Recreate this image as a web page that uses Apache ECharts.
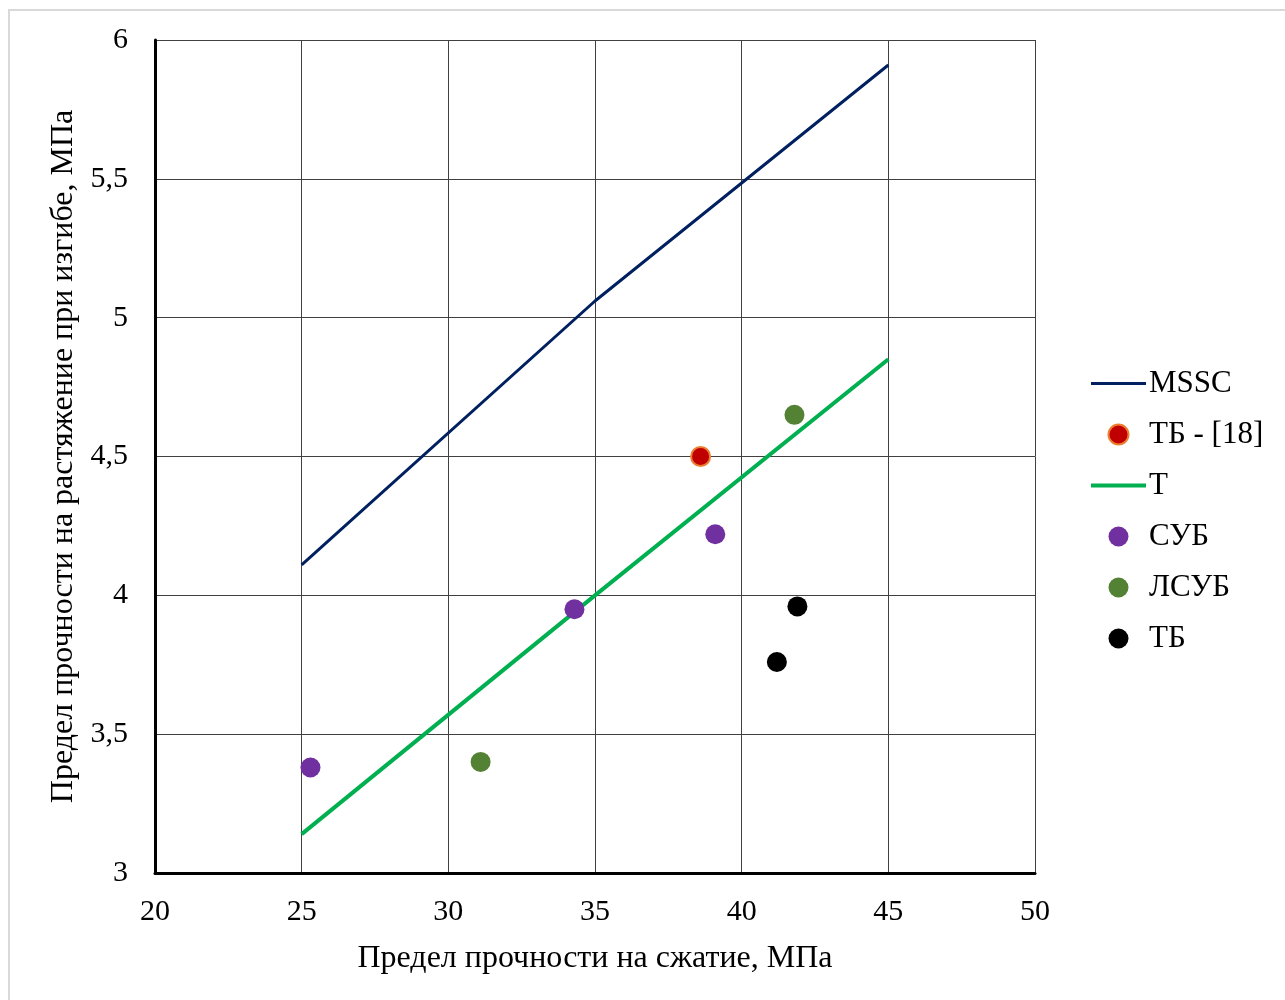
<!DOCTYPE html>
<html>
<head>
<meta charset="utf-8">
<script src="https://cdn.jsdelivr.net/npm/echarts@6/dist/echarts.min.js"></script>
<style>
html,body{margin:0;padding:0;background:#fff;}
#frame{position:absolute;left:8px;top:9px;width:1277px;height:991px;border-top:2px solid #d9d9d9;border-left:2px solid #d9d9d9;box-sizing:border-box;}
#c{position:absolute;left:0;top:0;width:1285px;height:1000px;}
</style>
</head>
<body>
<div id="frame"></div>
<div id="c"></div>
<script>
// Data
const xTitle = 'Предел прочности на сжатие, МПа';
const yTitle = 'Предел прочности на растяжение при изгибе, МПа';
const mssc = [[25, 4.11], [35, 5.06], [45, 5.91]];
const tLine = [[25, 3.14], [35, 4.0], [45, 4.85]];
const tb18 = [[38.6, 4.5]];
const sub = [[25.3, 3.38], [34.3, 3.95], [39.1, 4.22]];
const lsub = [[31.1, 3.40], [41.8, 4.65]];
const tb = [[41.2, 3.76], [41.9, 3.96]];

const font = 'Liberation Serif, Times New Roman, serif';
const lineIcon3 = 'path://M0,0 M0,8.5 L55,8.5 L55,11.5 L0,11.5 Z M55,20';
const lineIcon4 = 'path://M0,0 M0,8 L55,8 L55,12 L0,12 Z M55,20';
const chart = echarts.init(document.getElementById('c'));
chart.setOption({
  animation: false,
  textStyle: {fontFamily: font},
  grid: {left: 155, top: 40, width: 880, height: 833, containLabel: false},
  legend: {
    orient: 'vertical', left: 1086, top: 363, itemGap: 20, itemWidth: 55, itemHeight: 20,
    textStyle: {fontFamily: font, fontSize: 31, color: '#000', padding: [0, 0, 0, -2]},
    data: [
      {name: 'MSSC', icon: lineIcon3}, {name: 'ТБ - [18]', icon: 'circle'}, {name: 'T', icon: lineIcon4},
      {name: 'СУБ', icon: 'circle'}, {name: 'ЛСУБ', icon: 'circle'}, {name: 'ТБ', icon: 'circle'}
    ]
  },
  xAxis: {
    type: 'value', min: 20, max: 50, interval: 5,
    name: xTitle, nameLocation: 'middle', nameGap: 70,
    nameTextStyle: {fontFamily: font, fontSize: 32, color: '#000'},
    axisLine: {show: true, onZero: false, lineStyle: {color: '#000', width: 3}},
    axisTick: {show: false},
    axisLabel: {fontFamily: font, fontSize: 30, color: '#000', margin: 24},
    splitLine: {show: true, lineStyle: {color: '#404040', width: 1}}
  },
  yAxis: {
    type: 'value', min: 3, max: 6, interval: 0.5,
    name: yTitle, nameLocation: 'middle', nameGap: 75, nameRotate: 90,
    nameTextStyle: {fontFamily: font, fontSize: 32, color: '#000'},
    axisLine: {show: true, onZero: false, lineStyle: {color: '#000', width: 3}},
    axisTick: {show: false},
    axisLabel: {fontFamily: font, fontSize: 30, color: '#000', margin: 27, padding: [3, 0, 0, 0],
      formatter: v => String(v).replace('.', ',')},
    splitLine: {show: true, lineStyle: {color: '#404040', width: 1}}
  },
  series: [
    {name: 'MSSC', type: 'line', data: mssc, symbol: 'none', lineStyle: {color: '#002060', width: 3}, itemStyle: {color: '#002060'}, z: 3},
    {name: 'ТБ - [18]', type: 'scatter', data: tb18, symbolSize: 19, itemStyle: {color: '#c00000', borderColor: '#ed7d31', borderWidth: 2, opacity: 1}, z: 4},
    {name: 'T', type: 'line', data: tLine, symbol: 'none', lineStyle: {color: '#00b050', width: 4}, itemStyle: {color: '#00b050'}, z: 3},
    {name: 'СУБ', type: 'scatter', data: sub, symbolSize: 20, itemStyle: {color: '#7030a0', opacity: 1}, z: 4},
    {name: 'ЛСУБ', type: 'scatter', data: lsub, symbolSize: 20, itemStyle: {color: '#548235', opacity: 1}, z: 4},
    {name: 'ТБ', type: 'scatter', data: tb, symbolSize: 20, itemStyle: {color: '#000000', opacity: 1}, z: 4}
  ]
});
</script>
</body>
</html>
